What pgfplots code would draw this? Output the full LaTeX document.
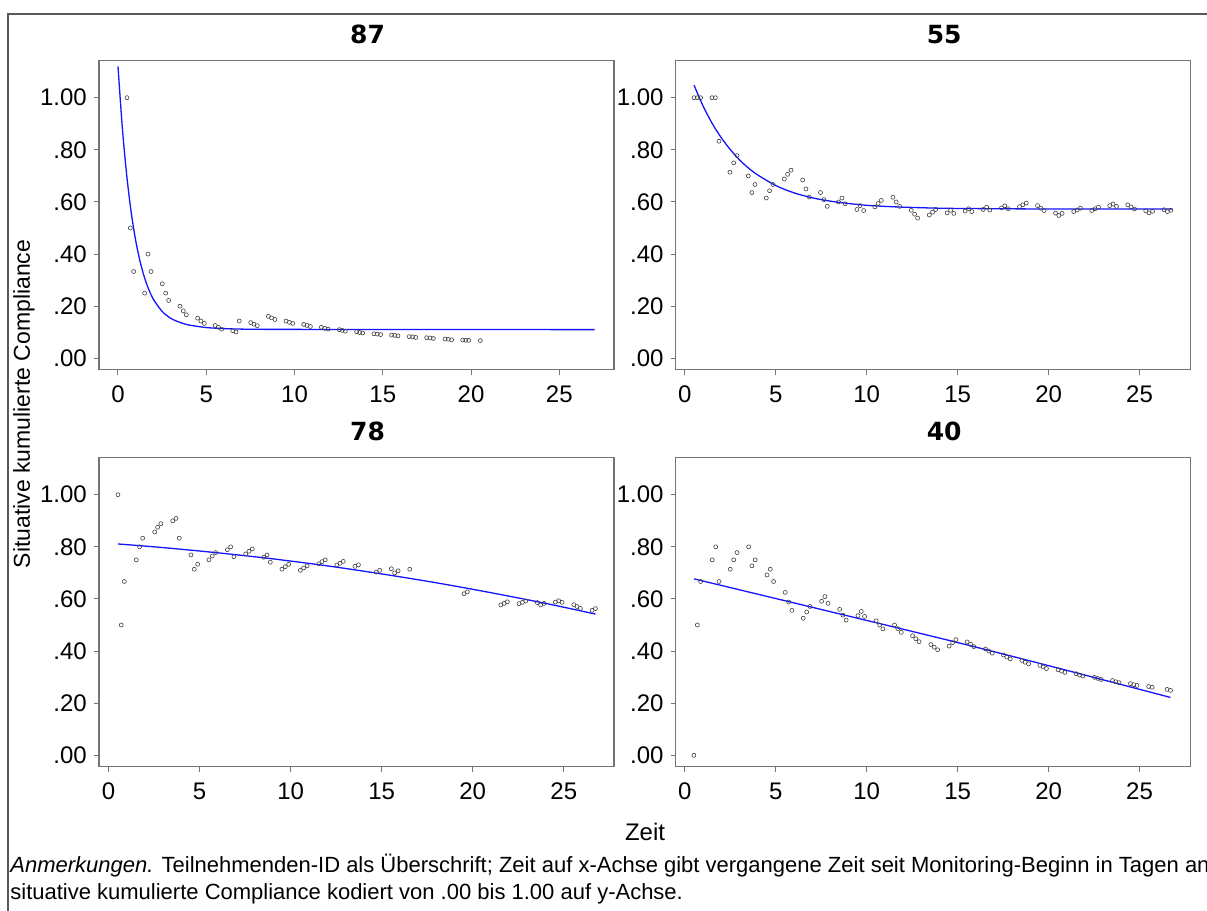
\documentclass[border=0pt]{standalone}
\usepackage{fontspec}
\setmainfont{Liberation Sans}
\newfontfamily\titlefont{DejaVu Sans}
\usepackage{pgfplots}
\pgfplotsset{compat=1.18}
\usepackage{pgfplotstable}

\pgfplotstableread{
x y
0.51 1.000
0.70 0.500
0.89 0.333
1.51 0.250
1.70 0.400
1.87 0.333
2.51 0.286
2.70 0.250
2.87 0.222
3.51 0.200
3.70 0.182
3.87 0.167
4.51 0.154
4.70 0.143
4.89 0.134
5.51 0.126
5.69 0.119
5.87 0.112
6.50 0.106
6.69 0.101
6.87 0.143
7.52 0.137
7.70 0.131
7.89 0.125
8.52 0.161
8.70 0.155
8.89 0.149
9.52 0.143
9.71 0.138
9.90 0.134
10.52 0.130
10.71 0.126
10.90 0.122
11.52 0.119
11.71 0.115
11.90 0.112
12.54 0.110
12.71 0.107
12.88 0.104
13.52 0.102
13.69 0.099
13.86 0.097
14.50 0.094
14.69 0.093
14.88 0.091
15.50 0.089
15.68 0.088
15.86 0.086
16.50 0.083
16.69 0.082
16.87 0.080
17.49 0.079
17.68 0.078
17.87 0.076
18.53 0.074
18.71 0.073
18.90 0.071
19.53 0.070
19.70 0.069
19.87 0.069
20.53 0.068
}\dataA
\pgfplotstableread{
x y
0.00 1.120
0.25 0.881
0.50 0.699
0.75 0.559
1.00 0.453
1.25 0.372
1.50 0.310
1.75 0.263
2.00 0.227
2.50 0.180
3.00 0.153
3.50 0.138
4.00 0.128
5.00 0.118
6.00 0.114
7.00 0.112
9.00 0.111
27.00 0.110
}\fitA
\pgfplotstableread{
x y
0.51 1.000
0.69 1.000
0.87 1.000
1.49 1.000
1.68 1.000
1.88 0.833
2.48 0.714
2.69 0.750
2.87 0.778
3.49 0.700
3.69 0.636
3.86 0.667
4.48 0.615
4.66 0.643
4.85 0.667
5.47 0.688
5.65 0.706
5.84 0.722
6.48 0.684
6.66 0.650
6.84 0.619
7.46 0.636
7.65 0.609
7.83 0.583
8.45 0.600
8.64 0.615
8.82 0.593
9.46 0.571
9.64 0.586
9.83 0.567
10.45 0.581
10.63 0.594
10.80 0.606
11.44 0.618
11.62 0.600
11.81 0.583
12.45 0.568
12.63 0.553
12.80 0.538
13.44 0.550
13.62 0.561
13.79 0.571
14.42 0.558
14.61 0.568
14.79 0.556
15.41 0.565
15.60 0.574
15.78 0.563
16.40 0.571
16.59 0.580
16.77 0.569
17.41 0.577
17.59 0.585
17.78 0.574
18.40 0.582
18.58 0.589
18.77 0.596
19.39 0.586
19.57 0.576
19.75 0.567
20.38 0.557
20.56 0.548
20.74 0.556
21.38 0.563
21.57 0.569
21.75 0.576
22.37 0.567
22.56 0.574
22.74 0.580
23.36 0.586
23.54 0.592
23.73 0.583
24.35 0.589
24.53 0.581
24.72 0.573
25.34 0.566
25.52 0.558
25.71 0.564
26.35 0.570
26.53 0.563
26.72 0.568
}\dataB
\pgfplotstableread{
x y
0.51 1.048
1.00 0.969
1.50 0.902
2.00 0.847
2.50 0.801
3.00 0.762
3.50 0.730
4.00 0.704
5.00 0.663
6.00 0.635
7.00 0.616
8.00 0.603
9.00 0.594
10.00 0.587
11.00 0.583
12.00 0.580
14.00 0.576
16.00 0.5745
20.00 0.573
26.80 0.573
}\fitB
\pgfplotstableread{
x y
0.51 1.000
0.69 0.500
0.86 0.667
1.52 0.750
1.70 0.800
1.87 0.833
2.53 0.857
2.69 0.875
2.87 0.889
3.52 0.900
3.70 0.909
3.88 0.833
4.52 0.769
4.70 0.714
4.89 0.733
5.51 0.750
5.69 0.765
5.88 0.778
6.52 0.789
6.70 0.800
6.88 0.762
7.53 0.773
7.71 0.783
7.89 0.792
8.52 0.760
8.70 0.769
8.88 0.741
9.52 0.714
9.70 0.724
9.89 0.733
10.53 0.710
10.71 0.719
10.90 0.727
11.54 0.735
11.72 0.743
11.90 0.750
12.53 0.730
12.71 0.737
12.89 0.744
13.53 0.725
13.72 0.731
14.70 0.703
14.89 0.710
15.53 0.716
15.71 0.700
15.90 0.708
16.54 0.714
19.52 0.620
19.70 0.627
21.54 0.577
21.72 0.583
21.90 0.589
22.54 0.582
22.73 0.587
22.91 0.592
23.55 0.586
23.73 0.577
23.92 0.583
24.54 0.588
24.72 0.593
24.91 0.587
25.55 0.578
25.73 0.571
25.91 0.564
26.56 0.556
26.74 0.563
}\dataC
\pgfplotstableread{
x y
0.51 0.811
3.00 0.797
6.00 0.777
9.00 0.754
12.00 0.727
15.00 0.696
18.00 0.662
21.00 0.624
24.00 0.583
26.74 0.542
}\fitC
\pgfplotstableread{
x y
0.50 0.000
0.69 0.500
0.87 0.667
1.51 0.750
1.70 0.800
1.88 0.667
2.50 0.714
2.69 0.750
2.87 0.778
3.51 0.800
3.69 0.727
3.87 0.750
4.52 0.692
4.70 0.714
4.88 0.667
5.52 0.625
5.71 0.588
5.89 0.556
6.51 0.526
6.70 0.550
6.88 0.571
7.52 0.591
7.70 0.609
7.88 0.583
8.51 0.560
8.69 0.538
8.87 0.519
9.52 0.536
9.70 0.552
9.88 0.533
10.52 0.516
10.71 0.500
10.89 0.485
11.53 0.500
11.71 0.486
11.90 0.472
12.52 0.459
12.70 0.447
12.88 0.436
13.53 0.425
13.71 0.415
13.90 0.405
14.53 0.419
14.72 0.432
14.90 0.444
15.52 0.435
15.71 0.426
15.89 0.417
16.53 0.408
16.71 0.400
16.90 0.392
17.52 0.385
17.70 0.377
17.89 0.370
18.53 0.364
18.71 0.357
18.90 0.351
19.52 0.345
19.70 0.339
19.88 0.333
20.52 0.328
20.71 0.323
20.89 0.318
21.51 0.313
21.70 0.308
21.88 0.304
22.52 0.299
22.70 0.295
22.89 0.291
23.51 0.287
23.69 0.282
23.87 0.279
24.50 0.275
24.68 0.271
24.86 0.268
25.50 0.264
25.69 0.261
26.51 0.253
26.70 0.249
}\dataD
\pgfplotstableread{
x y
0.51 0.677
7.00 0.568
14.40 0.443
20.00 0.344
26.70 0.222
}\fitD

\pgfplotsset{
  panel/.style={
    scale only axis, width=257.5pt, height=154.4pt,
    ymin=-0.043, ymax=1.142,
    ytick={0,0.2,0.4,0.6,0.8,1}, yticklabels={.00,.20,.40,.60,.80,1.00},
    xtick={0,5,10,15,20,25},
    tick align=outside, tick pos=left,
    major tick length=2.5pt,
    axis line style={black!55, line width=0.6pt},
    tick style={black!55, line width=0.5pt},
    tick label style={font=\fontsize{12}{14}\selectfont},
    /pgf/number format/assume math mode=true,
    yticklabel style={inner sep=0pt, xshift=-3.4pt},
    xticklabel style={inner sep=0pt, yshift=-5.5pt},
    title style={font=\titlefont\bfseries\fontsize{12.5}{15}\selectfont,
      anchor=base, at={(0.5,1)}, yshift=2.5pt, xshift=5.5pt},
  },
  pts/.style={only marks, mark=o, mark size=1.0pt,
    mark options={draw=black!75, line width=0.3pt}},
  fit/.style={color={rgb,255:red,20;green,20;blue,255}, line width=0.65pt, smooth, no marks},
}

\begin{document}
\begin{tikzpicture}
\path[use as bounding box] (0,0) rectangle (603.5pt,-455.5pt);
\draw[black!65, line width=0.75pt] (4pt,-455.5pt) -- (4pt,-7pt) -- (603.5pt,-7pt);

\begin{axis}[panel, at={(49.5pt,-30.35pt)}, anchor=north west,
  title={87}, xmin=-1.076, xmax=28.10]
\addplot[pts] table {\dataA};
\addplot[fit] table {\fitA};
\end{axis}

\begin{axis}[panel, at={(337.85pt,-30.35pt)}, anchor=north west,
  title={55}, xmin=-0.5, xmax=27.81]
\addplot[pts] table {\dataB};
\addplot[fit] table {\fitB};
\end{axis}

\begin{axis}[panel, at={(49.5pt,-228.85pt)}, anchor=north west,
  title={78}, xmin=-0.53, xmax=27.76]
\addplot[pts] table {\dataC};
\addplot[fit] table {\fitC};
\end{axis}

\begin{axis}[panel, at={(337.85pt,-228.85pt)}, anchor=north west,
  title={40}, xmin=-0.5, xmax=27.81]
\addplot[pts] table {\dataD};
\addplot[fit] table {\fitD};
\end{axis}

\node[rotate=90, font=\fontsize{11.5}{14}\selectfont] at (12pt,-202pt) {Situative kumulierte Compliance};
\node[font=\fontsize{12}{14}\selectfont] at (322.5pt,-416pt) {Zeit};
\node[anchor=base west, inner sep=0pt, font=\fontsize{11}{13}\selectfont] at (5pt,-436pt)
  {\textit{Anmerkungen.} Teilnehmenden-ID als Überschrift; Zeit auf x-Achse gibt vergangene Zeit seit Monitoring-Beginn in Tagen an};
\node[anchor=base west, inner sep=0pt, font=\fontsize{11}{13}\selectfont] at (5pt,-449.5pt)
  {situative kumulierte Compliance kodiert von .00 bis 1.00 auf y-Achse.};
\end{tikzpicture}
\end{document}
